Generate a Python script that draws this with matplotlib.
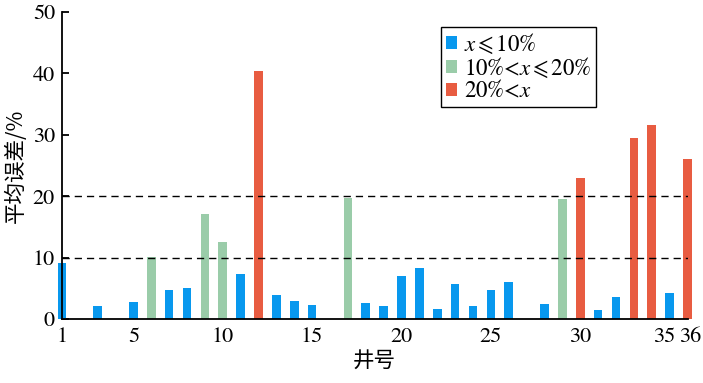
import matplotlib
matplotlib.use("Agg")
import matplotlib.pyplot as plt
import matplotlib.transforms as mtransforms
from matplotlib.patches import Patch

plt.rcParams['font.family'] = ['STIXGeneral', 'DejaVu Sans', 'Noto Sans CJK SC']
plt.rcParams['mathtext.fontset'] = 'stix'

wells = [1, 3, 5, 6, 7, 8, 9, 10, 11, 12, 13, 14, 15, 17, 18, 19, 20, 21, 22,
         23, 24, 25, 26, 28, 29, 30, 31, 32, 33, 34, 35, 36]
errors = [9.2, 2.1, 2.7, 10.1, 4.7, 5.1, 17.1, 12.6, 7.4, 40.4, 3.9, 2.9, 2.3,
          19.7, 2.6, 2.2, 7.0, 8.3, 1.6, 5.7, 2.1, 4.8, 6.0, 2.4, 19.5, 22.9,
          1.5, 3.6, 29.5, 31.6, 4.2, 26.0]
xticks = [1, 5, 10, 15, 20, 25, 30, 35, 36]
yticks = [0, 10, 20, 30, 40, 50]
thresholds = [10, 20]
labels = ['$x\\,$⩽$\\,$10%', '10%<$x\\,$⩽$\\,$20%', '20%<$x$']
colors = ['#0898EE', '#9ACCA9', '#E85C41']

# category assignment as drawn in the chart
cats = []
for v in errors:
    if v > 20:
        cats.append(2)
    elif v >= 10:
        cats.append(1)
    else:
        cats.append(0)

fig = plt.figure(figsize=(7.03, 3.83), dpi=100)
ax = fig.add_axes([0.088, 0.167, 0.89, 0.802])

ax.bar(wells, errors, width=0.48, color=[colors[c] for c in cats],
       clip_on=False, zorder=2)
for t in thresholds:
    ax.plot([1, 36], [t, t], color='black', lw=1.0, ls=(0, (5.2, 3.6)), zorder=3)

ax.set_xlim(1, 36)
ax.set_ylim(0, 50)
ax.set_xticks(xticks)
ax.set_yticks(yticks)
ax.spines['top'].set_visible(False)
ax.spines['right'].set_visible(False)
for s in ['left', 'bottom']:
    ax.spines[s].set_linewidth(1.3)
    ax.spines[s].set_zorder(4)
ax.tick_params(direction='in', length=5, width=1.3, labelsize=16, pad=6)
ax.tick_params(axis='y', pad=5)

# nudge the crowded 35 / 36 labels apart
for lab in ax.get_xticklabels():
    txt = lab.get_text()
    if txt == '35':
        lab.set_transform(lab.get_transform() + mtransforms.ScaledTranslation(-5 / 100, 0, fig.dpi_scale_trans))
    elif txt == '36':
        lab.set_transform(lab.get_transform() + mtransforms.ScaledTranslation(3 / 100, 0, fig.dpi_scale_trans))

ax.set_xlabel('井号', fontsize=15.5, family=['Noto Sans CJK SC'], labelpad=2)
ax.set_ylabel('平均误差/%', fontsize=15.5, family=['Noto Sans CJK SC', 'STIXGeneral'], labelpad=4)

handles = [Patch(facecolor=c, edgecolor='none') for c in colors]
leg = ax.legend(handles, labels, loc='upper left', bbox_to_anchor=(0.606, 0.951),
                borderaxespad=0, fontsize=16.5, handlelength=0.5, handleheight=0.5,
                handletextpad=0.3, labelspacing=0.0, borderpad=0.2,
                fancybox=False, framealpha=1, edgecolor='black')
leg.get_frame().set_linewidth(1.0)

fig.savefig('out.png', dpi=100)
